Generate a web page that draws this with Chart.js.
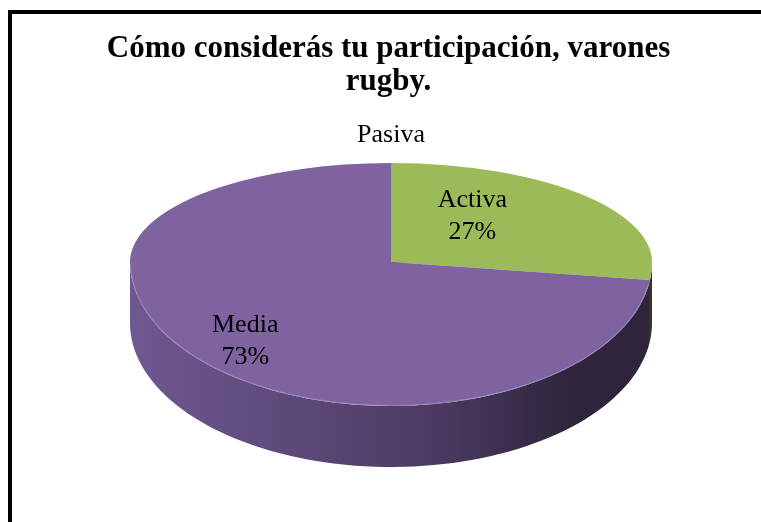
<!DOCTYPE html>
<html>
<head>
<meta charset="utf-8">
<script src="https://cdn.jsdelivr.net/npm/chart.js@4/dist/chart.umd.min.js"></script>
<style>
  html, body { margin: 0; padding: 0; background: #fff; overflow: hidden; }
  #wrap { position: relative; width: 761px; height: 522px; }
  #frame {
    position: absolute; left: 8px; top: 10px; right: -10px; bottom: -10px;
    border-left: 4px solid #000; border-top: 4px solid #000;
  }
  canvas { position: absolute; left: 0; top: 0; }
</style>
</head>
<body>
<div id="wrap">
  <div id="frame"></div>
  <canvas id="chart" width="761" height="522"></canvas>
</div>
<script>
const titleLines = ['Cómo considerás tu participación, varones', 'rugby.'];
const categories = ['Activa', 'Media', 'Pasiva'];
const values = [27, 73, 0];

const topColors = ['#9bbb59', '#7f63a1', '#4f81bd'];
const sideStops = [
  ['#5a6f31', '#3f4e24', '#2f3a1c'],
  ['#6f5892', '#4e3d65', '#2e253c'],
  ['#3d6491', '#2c4a6c', '#1f344c']
];

// where the tilted pie sits on the page
const CX = 391, CY = 262, RX = 261, RY_TOP = 99, RY_BOT = 144, DEPTH = 61;
const labelFrac = [0.57, 0.78, 1.28];
const labelTurn = [-0.27, -0.05, 0];

function drawSide(ctx, arc, i) {
  const a0 = Math.max(arc.startAngle, 0);
  const a1 = Math.min(arc.endAngle, Math.PI);
  if (a1 <= a0) return;
  const steps = 80;
  ctx.beginPath();
  for (let k = 0; k <= steps; k++) {
    const t = a0 + (a1 - a0) * k / steps;
    ctx.lineTo(CX + RX * Math.cos(t), CY + RY_BOT * Math.sin(t));
  }
  for (let k = steps; k >= 0; k--) {
    const t = a0 + (a1 - a0) * k / steps;
    ctx.lineTo(CX + RX * Math.cos(t), CY + DEPTH + RY_BOT * Math.sin(t));
  }
  ctx.closePath();
  const g = ctx.createLinearGradient(CX - RX, 0, CX + RX, 0);
  g.addColorStop(0, sideStops[i][0]);
  g.addColorStop(0.55, sideStops[i][1]);
  g.addColorStop(0.85, sideStops[i][2]);
  g.addColorStop(1, sideStops[i][2]);
  ctx.fillStyle = g;
  ctx.fill();
}

const pie3d = {
  id: 'pie3d',
  beforeDatasetsDraw(chart) {
    const ctx = chart.ctx;
    const arcs = chart.getDatasetMeta(0).data;
    const r = arcs[0].outerRadius, ox = arcs[0].x, oy = arcs[0].y;

    arcs.forEach((arc, i) => drawSide(ctx, arc, i));

    // top face: far half flatter than near half
    const halves = [[RY_TOP, 0, CY + 1], [RY_BOT, CY, chart.height - CY]];
    halves.forEach(([ry, y0, h]) => {
      ctx.save();
      ctx.beginPath();
      ctx.rect(0, y0, chart.width, h);
      ctx.clip();
      ctx.translate(CX, CY);
      ctx.scale(RX / r, ry / r);
      ctx.translate(-ox, -oy);
      arcs.forEach(a => a.draw(ctx));
      ctx.restore();
    });

    // light rim on the front edge
    ctx.save();
    ctx.beginPath();
    ctx.ellipse(CX, CY, RX - 0.5, RY_BOT - 0.5, 0, 0.15, Math.PI - 0.05);
    ctx.strokeStyle = 'rgba(170,150,200,0.6)';
    ctx.lineWidth = 1;
    ctx.stroke();
    ctx.restore();
    return false;
  },
  afterDraw(chart) {
    const ctx = chart.ctx;
    const arcs = chart.getDatasetMeta(0).data;
    const total = values.reduce((s, v) => s + v, 0);
    ctx.save();
    ctx.font = '26px "Liberation Serif", serif';
    ctx.fillStyle = '#000';
    ctx.textAlign = 'center';
    ctx.textBaseline = 'middle';
    arcs.forEach((arc, i) => {
      const mid = (arc.startAngle + arc.endAngle) / 2 + labelTurn[i];
      const s = Math.sin(mid);
      const x = CX + RX * labelFrac[i] * Math.cos(mid);
      const y = CY + (s < 0 ? RY_TOP : RY_BOT) * labelFrac[i] * s;
      if (values[i] > 0) {
        const pct = Math.round(values[i] / total * 100) + '%';
        ctx.fillText(categories[i], x, y - 15);
        ctx.fillText(pct, x, y + 17);
      } else {
        ctx.fillText(categories[i], x, y);
      }
    });
    ctx.restore();
  }
};

new Chart(document.getElementById('chart'), {
  type: 'pie',
  data: {
    labels: categories,
    datasets: [{
      data: values,
      backgroundColor: topColors,
      borderWidth: 0
    }]
  },
  options: {
    responsive: false,
    animation: false,
    layout: { padding: { left: 16 } },
    plugins: {
      legend: { display: false },
      tooltip: { enabled: false },
      title: {
        display: true,
        text: titleLines,
        color: '#000',
        font: { family: '"Liberation Serif", serif', size: 31, weight: 'bold', lineHeight: 1.08 },
        padding: { top: 32, bottom: 10 }
      }
    }
  },
  plugins: [pie3d]
});
</script>
</body>
</html>
